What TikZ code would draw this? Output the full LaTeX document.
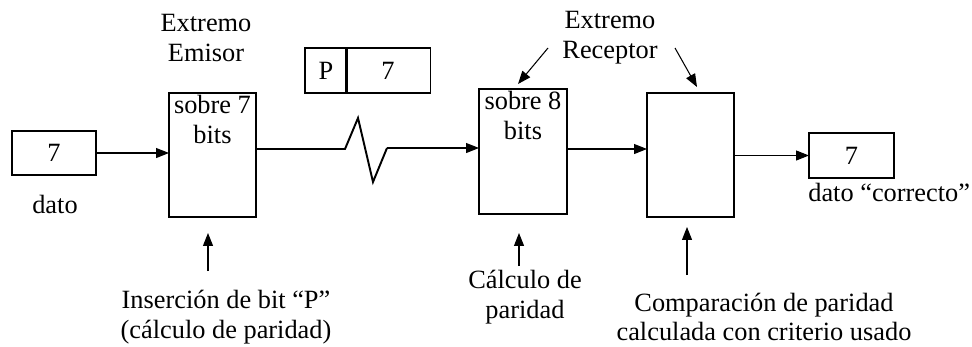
\documentclass[tikz,border=0pt]{standalone}
\usepackage{fontspec}
\setmainfont{Liberation Serif}
\usepackage{tikz}
\usetikzlibrary {arrows.meta,
                 positioning}
\tikzset{
         box/.style={draw, line width=0.8pt, inner sep=2pt, outer sep=0pt},
         myarrow/.style={-{Triangle[length=2.6mm, width=2mm]}, line width=0.6pt},
         wire/.style={line width=1.1pt},
}

\begin{document}
\begin{tikzpicture}[x=0.02cm, y=-0.02cm, font=\fontsize{15}{17}\selectfont]
    \useasboundingbox (0,0) rectangle (972,346);

    % Emisor
    \node[box, minimum width=1.68cm, minimum height=0.88cm] (dato) at (54,153) {7};
    \node (dato_text) at (55,204) {dato};
    \node[box, minimum width=1.74cm, minimum height=2.48cm, anchor=north west] (emi) at (169,93) {};
    \node[anchor=north, align=center, inner sep=1pt] (emi_text) at (emi.north) {sobre 7\\bits};
    \node[align=center] (emi_title) at (206,38) {Extremo\\Emisor};

    % Trama P|7
    \node[box, minimum width=0.84cm, minimum height=0.9cm, anchor=north west] (p) at (305,48) {P};
    \node[box, minimum width=1.7cm, minimum height=0.9cm, right=-0.8pt of p] (p7) {7};

    % Receptor
    \node[box, minimum width=1.76cm, minimum height=2.5cm, anchor=north west] (rec) at (479,89) {};
    \node[anchor=north, align=center, inner sep=1pt] (rec_text) at (rec.north) {sobre 8\\bits};
    \node[box, minimum width=1.74cm, minimum height=2.48cm, anchor=north west] (comp) at (647,93) {};
    \node[box, minimum width=1.7cm, minimum height=0.9cm, anchor=north west] (sal) at (809,133) {7};
    \node[anchor=west, inner sep=0pt] (sal_text) at (808,192) {dato “correcto”};
    \node[align=center] (rec_title) at (610,38) {Extremo\\Receptor};

    % Linea con ruido
    \coordinate (z1) at (345,149);
    \coordinate (z2) at (358,118);
    \coordinate (z3) at (373,182);
    \coordinate (z4) at (387,148);
    \draw[wire] (emi.east |- z1) -- (z1) -- (z2) -- (z3) -- (z4);

    % Flechas
    \draw[myarrow] (dato) -- (dato -| emi.west);
    \draw[myarrow] (z4) -- (z4 -| rec.west);
    \draw[myarrow] (rec.east |- z1) -- (z1 -| comp.west);
    \draw[myarrow] (comp.east |- sal) -- (sal.west);

    \coordinate (r1) at (548,48);
    \coordinate (r2) at (675,48);
    \draw[myarrow] (r1) -- (518,84);
    \draw[myarrow] (r2) -- (697,87);

    % Textos de abajo
    \node[align=center] (ins) at (226,317) {Inserción de bit “P”\\(cálculo de paridad)};
    \node[align=center] (calc) at (525,297) {Cálculo de\\paridad};
    \node[align=center] (compa) at (764,317) {Comparación de paridad\\calculada con criterio usado};

    \coordinate (b1) at (208,271);
    \coordinate (b2) at (519,266);
    \coordinate (b3) at (687,275);
    \draw[myarrow, shorten >=0.32cm] (b1) -- (b1 |- emi.south);
    \draw[myarrow, shorten >=0.38cm] (b2) -- (b2 |- rec.south);
    \draw[myarrow, shorten >=0.2cm] (b3) -- (b3 |- comp.south);
\end{tikzpicture}
\end{document}
